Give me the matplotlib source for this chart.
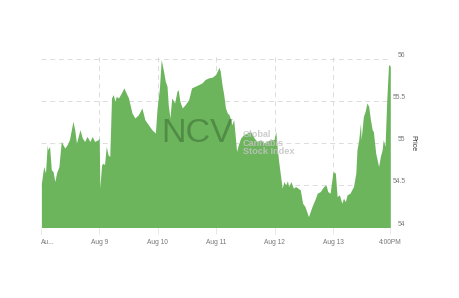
import matplotlib
matplotlib.use("Agg")
import matplotlib.pyplot as plt

# Session position (days since Aug 8 open) and price
days = [0.01, 0.05, 0.08, 0.11, 0.12, 0.15, 0.18, 0.21, 0.24, 0.27, 0.31, 0.35, 0.41, 0.45, 0.49,
        0.55, 0.58, 0.61, 0.67, 0.71, 0.75, 0.79, 0.84, 0.88, 0.92, 0.98, 1.00, 1.01, 1.04, 1.07,
        1.09, 1.12, 1.15, 1.18, 1.21, 1.24, 1.27, 1.29, 1.33, 1.38, 1.42, 1.46, 1.50, 1.56, 1.61,
        1.67, 1.73, 1.78, 1.84, 1.90, 1.96, 1.99, 2.03, 2.06, 2.10, 2.13, 2.16, 2.18, 2.21, 2.24,
        2.29, 2.33, 2.35, 2.38, 2.42, 2.47, 2.53, 2.58, 2.64, 2.70, 2.76, 2.81, 2.87, 2.93, 2.99,
        3.05, 3.07, 3.10, 3.13, 3.16, 3.19, 3.22, 3.24, 3.27, 3.30, 3.33, 3.35, 3.38, 3.42, 3.47,
        3.53, 3.59, 3.65, 3.70, 3.76, 3.82, 3.87, 3.93, 3.99, 4.02, 4.04, 4.07, 4.10, 4.13, 4.16,
        4.19, 4.22, 4.24, 4.28, 4.32, 4.36, 4.40, 4.44, 4.48, 4.52, 4.58, 4.64, 4.70, 4.73, 4.78,
        4.84, 4.88, 4.91, 4.95, 5.00, 5.04, 5.07, 5.11, 5.15, 5.18, 5.21, 5.24, 5.29, 5.35, 5.39,
        5.41, 5.44, 5.47, 5.48, 5.52, 5.55, 5.58, 5.61, 5.64, 5.67, 5.69, 5.73, 5.78, 5.81, 5.84,
        5.86, 5.89, 5.92, 5.95, 5.98]
price = [54.526, 54.724, 54.649, 54.982, 54.923, 54.962, 54.685, 54.664, 54.545, 54.649, 54.724,
         55.021, 54.943, 54.982, 55.042, 55.260, 55.161, 55.002, 55.161, 55.062, 55.021, 55.081,
         55.021, 55.081, 55.021, 55.042, 55.062, 54.467, 54.744, 54.764, 54.744, 54.962, 54.863,
         54.843, 55.538, 55.577, 55.498, 55.557, 55.538, 55.598, 55.657, 55.598, 55.538, 55.360,
         55.300, 55.339, 55.419, 55.280, 55.220, 55.161, 55.121, 55.419, 55.657, 55.994, 55.855,
         55.736, 55.676, 55.458, 55.300, 55.538, 55.479, 55.617, 55.637, 55.498, 55.419, 55.458,
         55.518, 55.657, 55.676, 55.696, 55.717, 55.756, 55.776, 55.783, 55.815, 55.902, 55.855,
         55.696, 55.577, 55.419, 55.360, 55.339, 55.300, 55.220, 55.280, 55.062, 54.902, 54.982,
         55.062, 55.101, 55.121, 55.140, 55.062, 55.021, 55.042, 55.002, 55.021, 55.042, 55.042,
         55.140, 54.982, 54.783, 54.625, 54.467, 54.545, 54.506, 54.554, 54.486, 54.545, 54.467,
         54.486, 54.467, 54.446, 54.288, 54.248, 54.129, 54.248, 54.348, 54.407, 54.426, 54.486,
         54.506, 54.426, 54.407, 54.664, 54.645, 54.367, 54.387, 54.288, 54.348, 54.307, 54.387,
         54.407, 54.486, 54.645, 54.923, 55.042, 55.240, 55.042, 55.319, 55.379, 55.479, 55.438,
         55.280, 55.161, 55.140, 54.883, 54.724, 54.843, 54.923, 55.042, 54.962, 55.518, 55.935,
         55.914]

tick_pos = [0, 1, 2, 3, 4, 5, 5.98]
tick_labels = ["Au...", "Aug 9", "Aug 10", "Aug 11", "Aug 12", "Aug 13", "4:00PM"]
y_ticks = [54, 54.5, 55, 55.5, 56]
y_tick_labels = ["54", "54.5", "55", "55.5", "56"]

plt.rcParams['font.family'] = ['Liberation Sans', 'DejaVu Sans']

W, H = 460, 298
fig = plt.figure(figsize=(W / 100, H / 100), dpi=100)
left, right, top, bottom = 40.8, 390.3, 59, 227.5
ax = fig.add_axes([left / W, 1 - bottom / H, (right - left) / W, (bottom - top) / H])

ax.fill_between(days, price, 54, color='#6cb55d', linewidth=0, zorder=2)
ax.set_xlim(0, 5.98)
ax.set_ylim(54, 56)

for s in ax.spines.values():
    s.set_visible(False)

ax.yaxis.tick_right()
ax.set_yticks(y_ticks)
ax.set_yticklabels(y_tick_labels, fontsize=4.8, color='#777777', ha='right')
ax.tick_params(axis='y', length=0, pad=11)
for lbl in ax.get_yticklabels():
    lbl.set_va('bottom')
ax.set_xticks(tick_pos)
ax.set_xticklabels(tick_labels, fontsize=4.8, color='#777777')
ax.tick_params(axis='x', length=4, color='#e4e4e4', width=0.6, pad=4)
ax.get_xticklabels()[0].set_ha('left')

ax.yaxis.set_label_position('right')
ax.set_ylabel('Price', rotation=270, fontsize=5, color='#333333', labelpad=8)

for yv in y_ticks:
    ax.axhline(yv, color='#dcdcdc', lw=0.7, ls=(0, (5, 4)), zorder=1)
for xv in tick_pos[1:-1]:
    ax.axvline(xv, color='#dcdcdc', lw=0.7, ls=(0, (5, 4)), zorder=1, ymin=0, ymax=1.03, clip_on=False)

ax.text(2.68, 55.11, 'NCV', fontsize=24.5, color='#2f5a2a', alpha=0.45,
        ha='center', va='center', zorder=3)
ax.text(3.46, 55.00, 'Global\nCannabis\nStock Index', fontsize=6.6, color='#c4c4c4',
        alpha=0.85, ha='left', va='center', linespacing=0.95, fontweight='bold', zorder=3)

fig.savefig('out.png', dpi=100)
